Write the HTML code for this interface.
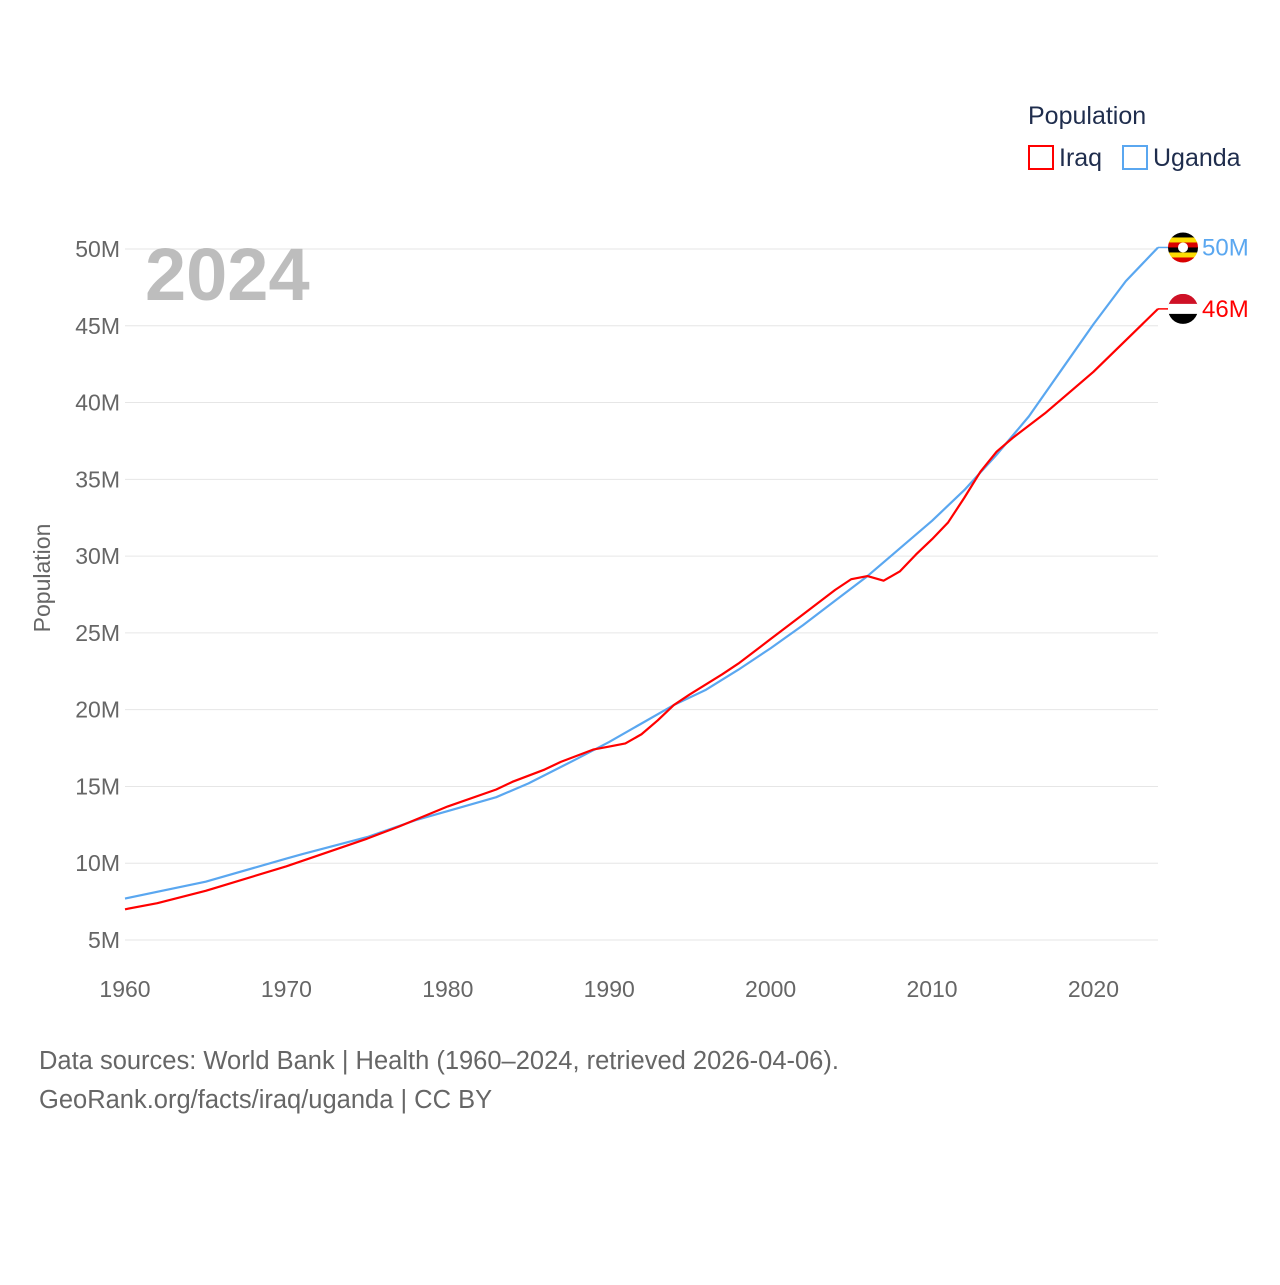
<!DOCTYPE html>
<html><head><meta charset="utf-8"><style>
body{margin:0;background:#fff;width:1280px;height:1280px;overflow:hidden;font-family:"Liberation Sans",sans-serif;}
</style></head><body>
<svg id="chart" width="1280" height="1280" xmlns="http://www.w3.org/2000/svg" font-family="Liberation Sans, sans-serif">
<g id="grid"></g>
<g id="yticks" font-size="23" fill="#666" text-anchor="end"></g>
<g id="xticks" font-size="23" fill="#666" text-anchor="middle"></g>
<text transform="translate(50,578) rotate(-90)" text-anchor="middle" font-size="23" fill="#666">Population</text>
<text x="145" y="300" font-size="74" font-weight="bold" fill="#bdbdbd">2024</text>
<g id="series"></g>
<g>
<text x="1028" y="124" font-size="25" fill="#1f2d4d">Population</text>
<rect x="1029" y="146" width="24" height="23" fill="none" stroke="#ff0000" stroke-width="2"/>
<text x="1059" y="166" font-size="25" fill="#1f2d4d">Iraq</text>
<rect x="1123" y="146" width="24" height="23" fill="none" stroke="#5aa7f0" stroke-width="2"/>
<text x="1153" y="166" font-size="25" fill="#1f2d4d">Uganda</text>
</g>
<g id="ends"></g>
<text x="39" y="1069" font-size="25.5" fill="#666">Data sources: World Bank | Health (1960–2024, retrieved 2026-04-06).</text>
<text x="39" y="1108" font-size="25.5" fill="#666">GeoRank.org/facts/iraq/uganda | CC BY</text>
</svg>
<script>
const yTicks=[5,10,15,20,25,30,35,40,45,50];
const xTicks=[1960,1970,1980,1990,2000,2010,2020];
const iraqYears=[1960,1962,1965,1970,1975,1977,1980,1983,1984,1986,1987,1988,1989,1990,1991,1992,1993,1994,1995,1997,1998,2000,2002,2004,2005,2006,2007,2008,2009,2010,2011,2012,2013,2014,2015,2017,2020,2024];
const iraqValues=[7.0,7.4,8.2,9.8,11.6,12.4,13.7,14.8,15.3,16.1,16.6,17.0,17.4,17.6,17.8,18.4,19.3,20.3,21.0,22.3,23.0,24.6,26.2,27.8,28.5,28.7,28.4,29.0,30.1,31.1,32.2,33.8,35.5,36.8,37.7,39.3,42.0,46.1];
const ugandaYears=[1960,1965,1970,1971,1975,1978,1980,1983,1985,1988,1990,1992,1994,1996,1998,2000,2002,2004,2006,2008,2010,2012,2014,2016,2018,2020,2022,2024];
const ugandaValues=[7.7,8.8,10.3,10.6,11.7,12.8,13.4,14.3,15.2,16.8,17.9,19.1,20.3,21.3,22.6,24.0,25.5,27.1,28.7,30.5,32.3,34.3,36.6,39.1,42.1,45.1,47.9,50.1];
const NS="http://www.w3.org/2000/svg";
const X=y=>125+(y-1960)*(1158-125)/64;
const Y=v=>940-(v-5)*(940-249)/45;
function mk(t,a,p){const e=document.createElementNS(NS,t);for(const k in a)e.setAttribute(k,a[k]);p.appendChild(e);return e;}
const grid=document.getElementById('grid'),yt=document.getElementById('yticks'),xt=document.getElementById('xticks');
yTicks.forEach(v=>{
 const l=mk('line',{x1:125,x2:1158,y1:Y(v),y2:Y(v),stroke:'#e6e6e6','stroke-width':1},grid);
 
 
 const t=mk('text',{x:120,y:Y(v)+8},yt);t.textContent=v+'M';
 
 
});
xTicks.forEach(y=>{
 const t=mk('text',{x:X(y),y:997},xt);t.textContent=y;
 
 
});
const s=document.getElementById('series');
function line(ys,vs,c,n){
 const p=mk('polyline',{points:ys.map((y,i)=>X(y)+','+Y(vs[i])).join(' '),fill:'none',stroke:c,'stroke-width':2.2,'stroke-linejoin':'round'},s);
 
 
}
line(ugandaYears,ugandaValues,'#5aa7f0','line-uganda');
line(iraqYears,iraqValues,'#ff0000','line-iraq');
const ends=document.getElementById('ends');
function endLabel(v,c,n,flag){
 const y=Y(v);
 mk('line',{x1:1158,x2:1168,y1:y,y2:y,stroke:c,'stroke-width':1.5},ends);
 const g=mk('g',{},ends);
 
 
 const cp='cp'+n;
 const d=mk('clipPath',{id:cp},g);mk('circle',{cx:1183,cy:y,r:15},d);
 const h=30/flag.length;
 flag.forEach((f,i)=>mk('rect',{x:1168,y:y-15+i*h,width:30,height:h+0.5,fill:f,'clip-path':'url(#'+cp+')'},g));
 if(n==='uganda')mk('circle',{cx:1183,cy:y,r:5,fill:'#fff'},g);
 const t=mk('text',{x:1202,y:y+8,'font-size':24,fill:c},ends);
 t.textContent=Math.round(v)+'M';
 
 
}
endLabel(ugandaValues[ugandaValues.length-1],'#5aa7f0','uganda',['#000','#fcdc04','#d90000','#000','#fcdc04','#d90000']);
endLabel(iraqValues[iraqValues.length-1],'#ff0000','iraq',['#ce1126','#fff','#000']);
</script>
</body></html>
